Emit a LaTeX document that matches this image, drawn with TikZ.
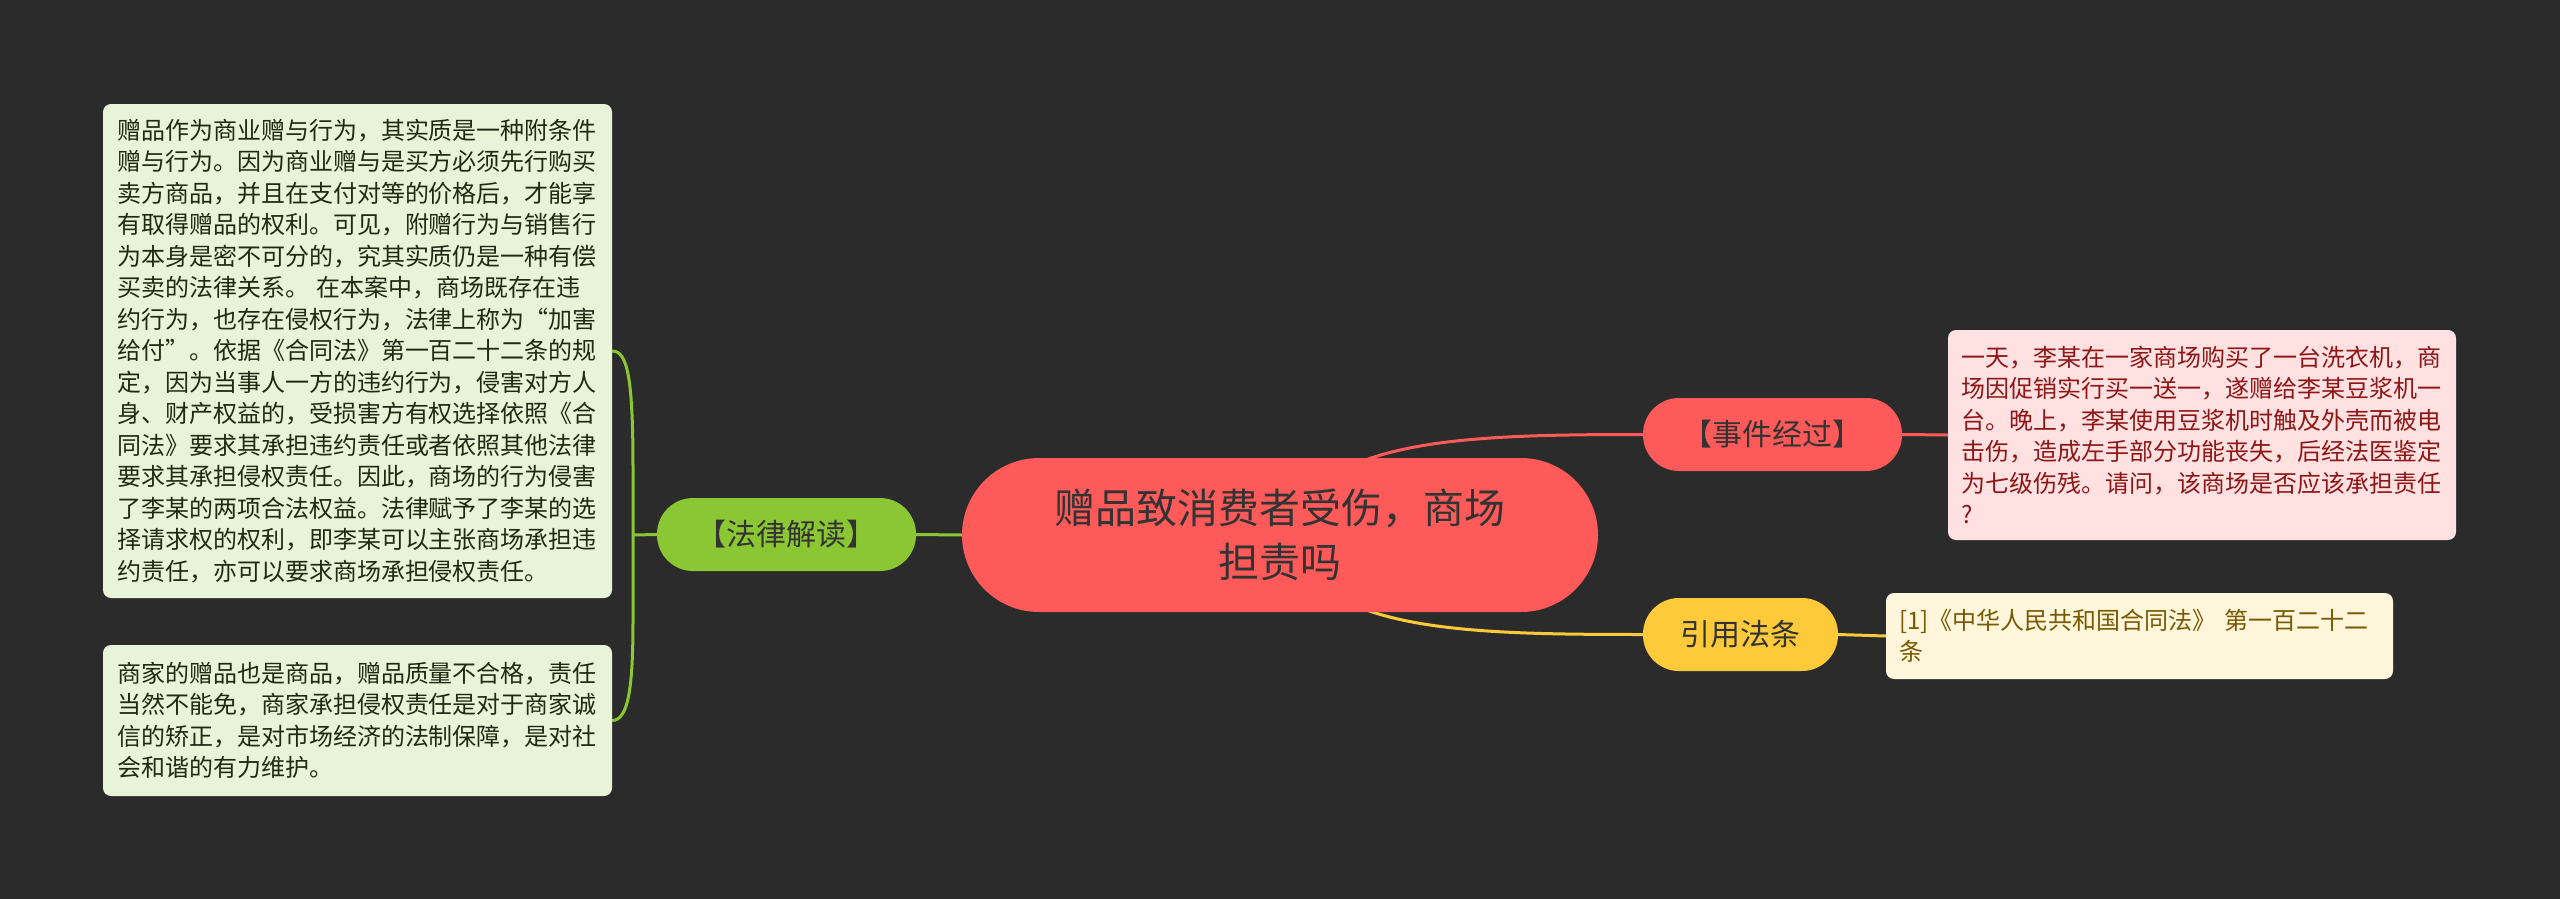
\documentclass[tikz,border=0pt]{standalone}
\usepackage{fontspec}
\setmainfont{Noto Sans CJK SC}
\definecolor{bgc}{HTML}{2B2B2B}
\definecolor{redf}{HTML}{FF5A5A}
\definecolor{grnf}{HTML}{8BC633}
\definecolor{yelf}{HTML}{FFCA3A}
\definecolor{grnbox}{HTML}{E8F4D8}
\definecolor{redbox}{HTML}{FFE1E1}
\definecolor{yelbox}{HTML}{FFF6DB}
\definecolor{txtd}{HTML}{333333}
\definecolor{grntxt}{HTML}{1E2A12}
\definecolor{redtxt}{HTML}{8E1616}
\definecolor{yeltxt}{HTML}{7A5800}
\newcommand\fwq[1]{{\addfontfeature{RawFeature=+fwid}#1}}
\pgfdeclarelayer{bg}
\pgfsetlayers{bg,main}
\tikzset{
  topic/.style={fill=redf, rounded corners=77pt, minimum width=636pt, minimum height=154pt,
    text=txtd, font=\fontsize{41}{54}\selectfont, align=center, inner sep=0pt},
  branch/.style={rounded corners=36pt, minimum height=73pt, text=txtd,
    font=\fontsize{30}{36}\selectfont, inner sep=0pt},
  leaf/.style={rounded corners=8pt, text width=481pt, align=left, inner ysep=0pt,
    font=\fontsize{24}{31.5}\selectfont},
  conn/.style={line width=3pt}
}
\begin{document}
\begin{tikzpicture}[x=1pt,y=-1pt]
\begin{pgfonlayer}{bg}
\fill[bgc] (0,0) rectangle (2560,899);
\end{pgfonlayer}
\useasboundingbox (0,0) rectangle (2560,899);

\node[topic] (c) at (1280,535) {赠品致消费者受伤，商场\\担责吗};

\node[branch, fill=grnf, minimum width=259pt] (lw) at (786.5,534.5) {【法律解读】};
\node[branch, fill=redf, minimum width=259pt] (ev) at (1772.5,434.5) {【事件经过】};
\node[branch, fill=yelf, minimum width=195pt] (rf) at (1740.5,634.5) {引用法条};

\node[leaf, fill=grnbox, text=grntxt, inner xsep=14pt, minimum height=494pt] (lb1) at (357.5,351) {赠品作为商业赠与行为，其实质是一种附条件\\
赠与行为。因为商业赠与是买方必须先行购买\\
卖方商品，并且在支付对等的价格后，才能享\\
有取得赠品的权利。可见，附赠行为与销售行\\
为本身是密不可分的，究其实质仍是一种有偿\\
买卖的法律关系。 在本案中，商场既存在违\\
约行为，也存在侵权行为，法律上称为\fwq{“}加害\\
给付\fwq{”}。依据《合同法》第一百二十二条的规\\
定，因为当事人一方的违约行为，侵害对方人\\
身、财产权益的，受损害方有权选择依照《合\\
同法》要求其承担违约责任或者依照其他法律\\
要求其承担侵权责任。因此，商场的行为侵害\\
了李某的两项合法权益。法律赋予了李某的选\\
择请求权的权利，即李某可以主张商场承担违\\
约责任，亦可以要求商场承担侵权责任。};

\node[leaf, fill=grnbox, text=grntxt, inner xsep=14pt, minimum height=151pt] (lb2) at (357.5,720.5) {商家的赠品也是商品，赠品质量不合格，责任\\
当然不能免，商家承担侵权责任是对于商家诚\\
信的矫正，是对市场经济的法制保障，是对社\\
会和谐的有力维护。};

\node[leaf, fill=redbox, text=redtxt, inner xsep=13.5pt, minimum height=210pt] (eb) at (2202,435) {一天，李某在一家商场购买了一台洗衣机，商\\
场因促销实行买一送一，遂赠给李某豆浆机一\\
台。晚上，李某使用豆浆机时触及外壳而被电\\
击伤，造成左手部分功能丧失，后经法医鉴定\\
为七级伤残。请问，该商场是否应该承担责任\\
?};

\node[leaf, fill=yelbox, text=yeltxt, inner xsep=13pt, minimum height=86pt] (cb) at (2139.5,636) {[1]《中华人民共和国合同法》 第一百二十二\\
条};

\coordinate (gj) at (633,535);
\begin{pgfonlayer}{bg}
\draw[conn, grnf] (c.west) -- (lw.east);
\draw[conn, grnf] (lw.west) -- (gj);
\draw[conn, grnf] (lb1.east) .. controls (628,351) and (633,380) .. (633,470) -- (gj);
\draw[conn, grnf] (lb2.east) .. controls (628,720) and (633,690) .. (633,620) -- (gj);
\draw[conn, redf] (c.center) .. controls (1320,440) and (1450,434.5) .. (ev.west);
\draw[conn, redf] (ev.east) -- (eb.west);
\draw[conn, yelf] (c.center) .. controls (1320,630) and (1450,634.5) .. (rf.west);
\draw[conn, yelf] (rf.east) -- (cb.west);
\end{pgfonlayer}
\end{tikzpicture}
\end{document}
